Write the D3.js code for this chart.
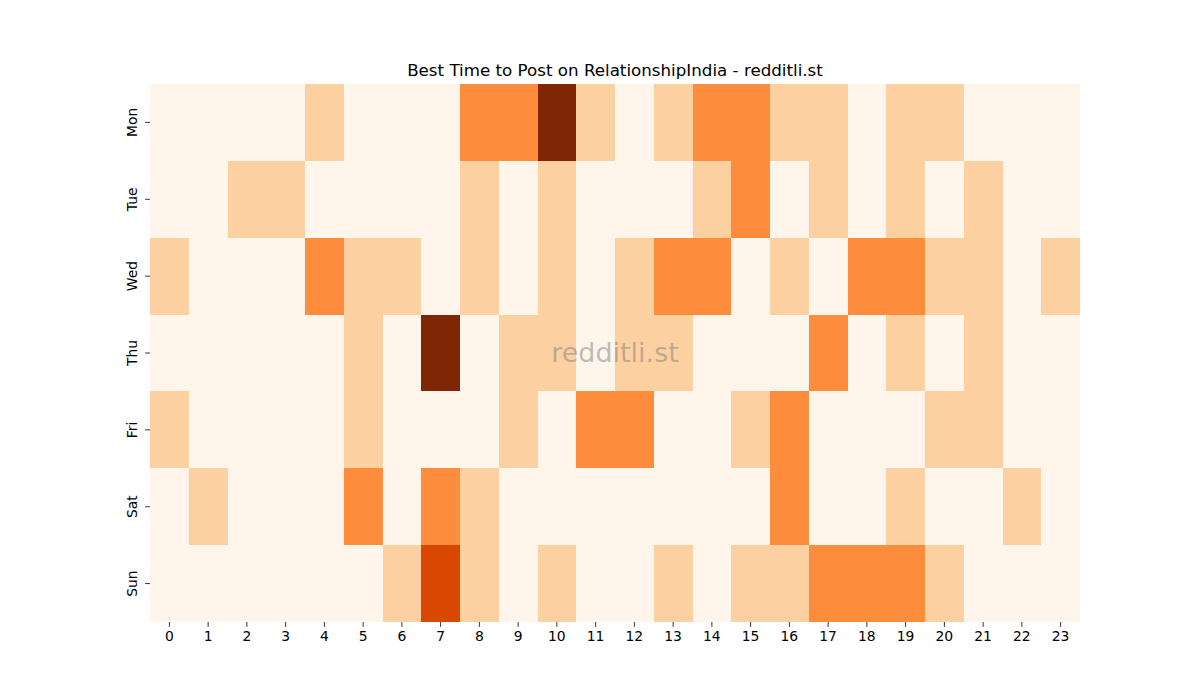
<!DOCTYPE html>
<html>
<head>
<meta charset="utf-8">
<script src="https://cdn.jsdelivr.net/npm/d3@7"></script>
<style>
  body { margin: 0; background: #fff; }
  svg { font-family: "DejaVu Sans", sans-serif; }
</style>
</head>
<body>
<div id="chart"></div>
<script>
const days = ["Mon", "Tue", "Wed", "Thu", "Fri", "Sat", "Sun"]
const hours = d3.range(24).map(String)

// posts score per day/hour (0..4)
const mon = [0,0,0,0,1,0,0,0,2,2,4,1,0,1,2,2,1,1,0,1,1,0,0,0]
const tue = [0,0,1,1,0,0,0,0,1,0,1,0,0,0,1,2,0,1,0,1,0,1,0,0]
const wed = [1,0,0,0,2,1,1,0,1,0,1,0,1,2,2,0,1,0,2,2,1,1,0,1]
const thu = [0,0,0,0,0,1,0,4,0,1,1,0,1,1,0,0,0,2,0,1,0,1,0,0]
const fri = [1,0,0,0,0,1,0,0,0,1,0,2,2,0,0,1,2,0,0,0,1,1,0,0]
const sat = [0,1,0,0,0,2,0,2,1,0,0,0,0,0,0,0,2,0,0,1,0,0,1,0]
const sun = [0,0,0,0,0,0,1,3,1,0,1,0,0,1,0,1,1,2,2,2,1,0,0,0]
const rows = [mon, tue, wed, thu, fri, sat, sun]

const cells = []
rows.forEach((r, i) => r.forEach((v, j) => cells.push({day: days[i], hour: hours[j], value: v})))

const margin = {top: 84, right: 120, bottom: 78, left: 150}
const width = 1200 - margin.left - margin.right
const height = 700 - margin.top - margin.bottom

const svg = d3.select("#chart").append("svg")
    .attr("width", 1200)
    .attr("height", 700)

const g = svg.append("g").attr("transform", `translate(${margin.left},${margin.top})`)

const x = d3.scaleBand().domain(hours).range([0, width])
const y = d3.scaleBand().domain(days).range([0, height])

// matplotlib "Oranges"
const oranges = ["#fff5eb","#fee6ce","#fdd0a2","#fdae6b","#fd8d3c","#f16913","#d94801","#a63603","#7f2704"]
const maxV = d3.max(cells, d => d.value)
const color = d3.scaleLinear()
    .domain(oranges.map((c, i) => i * maxV / (oranges.length - 1)))
    .range(oranges)

g.selectAll("rect")
    .data(cells)
    .enter()
    .append("rect")
    .attr("x", d => x(d.hour))
    .attr("y", d => y(d.day))
    .attr("width", x.bandwidth())
    .attr("height", y.bandwidth())
    .attr("fill", d => color(d.value))
    .attr("shape-rendering", "crispEdges")

const xAxis = g.append("g")
    .attr("transform", `translate(0,${height})`)
    .call(d3.axisBottom(x).tickSize(4.9).tickPadding(4))
xAxis.select(".domain").remove()
xAxis.selectAll("line").attr("stroke", "#000").attr("stroke-width", 0.8)
xAxis.selectAll("text").attr("font-size", 13.9).attr("fill", "#000")
    .attr("font-family", "DejaVu Sans")

const yAxis = g.append("g")
    .call(d3.axisLeft(y).tickSize(4.9).tickPadding(0))
yAxis.select(".domain").remove()
yAxis.selectAll("line").attr("stroke", "#000").attr("stroke-width", 0.8)
yAxis.selectAll("text")
    .attr("font-size", 13.9).attr("fill", "#000")
    .attr("font-family", "DejaVu Sans")
    .attr("x", null).attr("dy", null)
    .attr("text-anchor", "middle")
    .attr("transform", "translate(-13,0) rotate(-90)")

svg.append("text")
    .attr("x", margin.left + width / 2)
    .attr("y", 76)
    .attr("text-anchor", "middle")
    .attr("font-size", 16.7)
    .text("Best Time to Post on RelationshipIndia - redditli.st")

g.append("text")
    .attr("x", width / 2)
    .attr("y", height / 2)
    .attr("dy", "0.35em")
    .attr("text-anchor", "middle")
    .attr("font-size", 27)
    .attr("fill", "#808080")
    .attr("fill-opacity", 0.5)
    .text("redditli.st")
</script>
</body>
</html>
